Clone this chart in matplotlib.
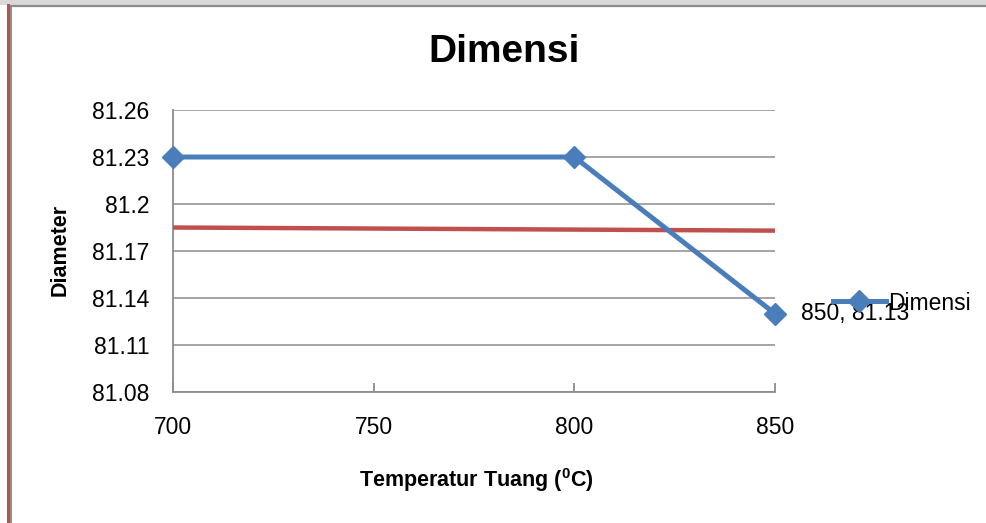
import matplotlib
matplotlib.use("Agg")
import matplotlib.pyplot as plt
from matplotlib.lines import Line2D
from matplotlib.patches import Rectangle

# data
suhu = [700, 800, 850]
dimensi = [81.23, 81.23, 81.13]
garis_merah_x = [700, 850]
garis_merah_y = [81.185, 81.183]
yticks = [81.08, 81.11, 81.14, 81.17, 81.2, 81.23, 81.26]
ytick_labels = ["81.08", "81.11", "81.14", "81.17", "81.2", "81.23", "81.26"]
xticks = [700, 750, 800, 850]

W, H = 987, 523
fig = plt.figure(figsize=(W / 100, H / 100), dpi=100)
fig.patch.set_facecolor("white")

plt.rcParams["font.family"] = ["Liberation Sans", "DejaVu Sans"]

# frame around the chart area
fig.patches.append(Rectangle((0, 1 - 5 / H), 1, 5 / H, transform=fig.transFigure,
                             facecolor="#d9d9d9", edgecolor="none", zorder=0))
fig.lines.append(Line2D([10 / W, 1], [1 - 6 / H, 1 - 6 / H], transform=fig.transFigure,
                        color="#8c8c8c", lw=1.6))
fig.lines.append(Line2D([8 / W, 8 / W], [0, 1 - 5 / H], transform=fig.transFigure,
                        color="#c0504d", lw=2.2))
fig.lines.append(Line2D([11 / W, 11 / W], [0, 1 - 6 / H], transform=fig.transFigure,
                        color="#8c8c8c", lw=1.4))

ax = fig.add_axes([173 / W, 1 - 392 / H, (775 - 173) / W, (392 - 110) / H])
ax.set_xlim(700, 850)
ax.set_ylim(81.08, 81.26)

ax.plot(suhu, dimensi, color="#4a7ebb", lw=3.6, marker="D", ms=11,
        markerfacecolor="#4a7ebb", markeredgecolor="#4a7ebb", label="Dimensi",
        zorder=4, clip_on=False)
ax.plot(garis_merah_x, garis_merah_y, color="#c0504d", lw=3.2, zorder=3,
        label="_nolegend_")

ax.annotate(f"{suhu[-1]}, {dimensi[-1]:.2f}", (suhu[-1], dimensi[-1]),
            xytext=(19, 0), textcoords="offset points", va="center", ha="left",
            fontsize=16.5, color="#000000", zorder=5)

ax.set_yticks(yticks)
ax.set_yticklabels(ytick_labels)
ax.set_xticks(xticks)
ax.grid(axis="y", color="#8c8c8c", lw=1.1)
ax.set_axisbelow(True)
for s in ["top", "right"]:
    ax.spines[s].set_visible(False)
for s in ["left", "bottom"]:
    ax.spines[s].set_color("#8c8c8c")
    ax.spines[s].set_linewidth(1.3)
ax.tick_params(axis="x", direction="in", length=6.5, width=1.3, color="#8c8c8c",
               pad=17, labelsize=16.5)
ax.tick_params(axis="y", length=0, pad=17, labelsize=16.5)

leg = ax.legend(loc="center left", bbox_to_anchor=(833 / W, 1 - 303 / H),
                bbox_transform=fig.transFigure, frameon=False, fontsize=16.5,
                handlelength=2.3, handletextpad=0.1, borderpad=0, borderaxespad=0)

fig.text(504 / W, 1 - 52 / H, "Dimensi", ha="center", va="center",
         fontsize=28, fontweight="bold")
fig.text(60 / W, 1 - 250 / H, "Diameter", ha="center", va="center",
         rotation=90, fontsize=15.5, fontweight="bold")
plt.rcParams["mathtext.fontset"] = "custom"
plt.rcParams["mathtext.bf"] = "Liberation Sans:bold"
plt.rcParams["mathtext.rm"] = "Liberation Sans:bold"
fig.text(476 / W, 1 - 480 / H, r"Temperatur Tuang ($\mathbf{^0}$C)", ha="center",
         va="center", fontsize=15.5, fontweight="bold")

fig.savefig("out.png", dpi=100)
